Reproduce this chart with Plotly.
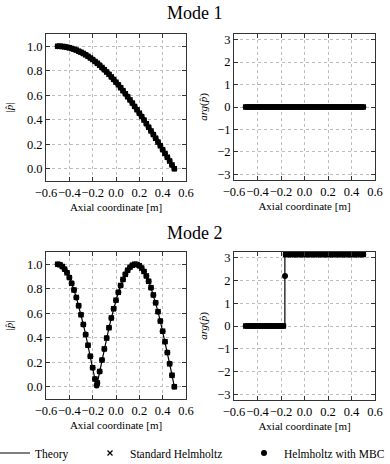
import plotly.graph_objects as go

# ---------------- data ----------------
x_grid = [-0.50, -0.48, -0.46, -0.44, -0.42, -0.40, -0.38, -0.36, -0.34, -0.32,
          -0.30, -0.28, -0.26, -0.24, -0.22, -0.20, -0.18, -0.16, -0.14, -0.12,
          -0.10, -0.08, -0.06, -0.04, -0.02, 0.00, 0.02, 0.04, 0.06, 0.08,
          0.10, 0.12, 0.14, 0.16, 0.18, 0.20, 0.22, 0.24, 0.26, 0.28,
          0.30, 0.32, 0.34, 0.36, 0.38, 0.40, 0.42, 0.44, 0.46, 0.48, 0.50]

# Mode 1 amplitude (theory == numerical at these points)
amp1 = [1.000, 1.000, 0.998, 0.996, 0.992, 0.988, 0.982, 0.976, 0.969, 0.960,
        0.951, 0.941, 0.930, 0.918, 0.905, 0.891, 0.876, 0.861, 0.844, 0.827,
        0.809, 0.790, 0.771, 0.750, 0.729, 0.707, 0.685, 0.661, 0.637, 0.613,
        0.588, 0.562, 0.536, 0.509, 0.482, 0.454, 0.426, 0.397, 0.368, 0.339,
        0.309, 0.279, 0.249, 0.218, 0.187, 0.156, 0.125, 0.094, 0.063, 0.031, 0.000]
phase1 = [0.0, 0.0, 0.0, 0.0, 0.0, 0.0, 0.0, 0.0, 0.0, 0.0,
          0.0, 0.0, 0.0, 0.0, 0.0, 0.0, 0.0, 0.0, 0.0, 0.0,
          0.0, 0.0, 0.0, 0.0, 0.0, 0.0, 0.0, 0.0, 0.0, 0.0,
          0.0, 0.0, 0.0, 0.0, 0.0, 0.0, 0.0, 0.0, 0.0, 0.0,
          0.0, 0.0, 0.0, 0.0, 0.0, 0.0, 0.0, 0.0, 0.0, 0.0, 0.0]

# Mode 2 amplitude / phase on the grid
amp2 = [1.000, 0.996, 0.982, 0.960, 0.930, 0.891, 0.844, 0.790, 0.729, 0.661,
        0.588, 0.509, 0.426, 0.339, 0.249, 0.156, 0.063, 0.031, 0.125, 0.218,
        0.309, 0.397, 0.482, 0.562, 0.637, 0.707, 0.771, 0.827, 0.876, 0.918,
        0.951, 0.976, 0.992, 1.000, 0.998, 0.988, 0.969, 0.941, 0.905, 0.861,
        0.809, 0.750, 0.685, 0.613, 0.536, 0.454, 0.368, 0.279, 0.187, 0.094, 0.000]
phase2 = [0.0, 0.0, 0.0, 0.0, 0.0, 0.0, 0.0, 0.0, 0.0, 0.0,
          0.0, 0.0, 0.0, 0.0, 0.0, 0.0, 0.0, 3.142, 3.142, 3.142,
          3.142, 3.142, 3.142, 3.142, 3.142, 3.142, 3.142, 3.142, 3.142, 3.142,
          3.142, 3.142, 3.142, 3.142, 3.142, 3.142, 3.142, 3.142, 3.142, 3.142,
          3.142, 3.142, 3.142, 3.142, 3.142, 3.142, 3.142, 3.142, 3.142, 3.142, 3.142]

# Theory mode 2 with the node / phase jump included
theory2_x = x_grid[:17] + [-0.167, -0.167] + x_grid[17:]
theory2_amp = amp2[:17] + [0.0, 0.0] + amp2[17:]
theory2_phase = phase2[:17] + [0.0, 3.142] + phase2[17:]

# Helmholtz with MBC, mode 2: one extra point next to the node
mbc2_x = x_grid[:17] + [-0.166] + x_grid[17:]
mbc2_amp = amp2[:17] + [0.01] + amp2[17:]
mbc2_phase = phase2[:17] + [2.2] + phase2[17:]

names = ["Theory", "Standard Helmholtz", "Helmholtz with MBC"]
x_ticks = [-0.6, -0.4, -0.2, 0.0, 0.2, 0.4, 0.6]
x_ticktext = ["\u22120.6", "\u22120.4", "\u22120.2", "0.0", "0.2", "0.4", "0.6"]

# ---------------- figure ----------------
FONT = "Liberation Serif"
W, H = 390, 464
fig = go.Figure()

def px_x(a, b):
    return [a / W, b / W]

def px_y(top, bottom):
    return [1 - bottom / H, 1 - top / H]

panels = [
    ("x", "y", px_x(46, 186), px_y(34, 181), x_grid, amp1, x_grid, amp1, x_grid, amp1),
    ("x2", "y2", px_x(234, 375), px_y(34, 180), x_grid, phase1, x_grid, phase1, x_grid, phase1),
    ("x3", "y3", px_x(46, 186), px_y(252, 399), theory2_x, theory2_amp, x_grid, amp2, mbc2_x, mbc2_amp),
    ("x4", "y4", px_x(234, 375), px_y(252, 400), theory2_x, theory2_phase, x_grid, phase2, mbc2_x, mbc2_phase),
]

for i, (xa, ya, xd, yd, tx, ty, sx, sy, mx, my) in enumerate(panels):
    first = i == 0
    fig.add_trace(go.Scatter(x=tx, y=ty, mode="lines", xaxis=xa, yaxis=ya,
                             line=dict(color="black", width=1.2),
                             name=names[0], showlegend=first, legend="legend"))
    fig.add_trace(go.Scatter(x=sx, y=sy, mode="markers", xaxis=xa, yaxis=ya,
                             marker=dict(symbol="x-thin", size=5, color="black",
                                         line=dict(color="black", width=1.2)),
                             name=names[1], showlegend=first, legend="legend2"))
    fig.add_trace(go.Scatter(x=mx, y=my, mode="markers", xaxis=xa, yaxis=ya,
                             marker=dict(symbol="circle", size=6, color="black"),
                             name=names[2], showlegend=first, legend="legend3"))

axis_common = dict(showline=True, linecolor="#333333", linewidth=1, mirror="allticks",
                   ticks="inside", ticklen=4, tickcolor="#333333", tickwidth=1,
                   showgrid=True, gridcolor="#bdbdbd", griddash="dot", gridwidth=1,
                   zeroline=False, automargin=False,
                   tickfont=dict(family=FONT, size=12.5, color="black"))

layout = dict(width=W, height=H, margin=dict(l=0, r=0, t=0, b=0, autoexpand=False),
              paper_bgcolor="white", plot_bgcolor="white",
              font=dict(family=FONT, color="black"))

for i, (xa, ya, xd, yd, *_rest) in enumerate(panels):
    xk = "xaxis" + ("" if xa == "x" else xa[1:])
    yk = "yaxis" + ("" if ya == "y" else ya[1:])
    left = i % 2 == 0
    layout[xk] = dict(axis_common, domain=xd, anchor=ya, range=[-0.6, 0.6],
                      tickmode="array", tickvals=x_ticks, ticktext=x_ticktext,
                      tickangle=0,
                      title=dict(text="Axial coordinate [m]", standoff=4,
                                 font=dict(family=FONT, size=11)))
    if left:
        layout[yk] = dict(axis_common, domain=yd, anchor=xa, range=[-0.1, 1.1],
                          tickmode="array", tickvals=[0.0, 0.2, 0.4, 0.6, 0.8, 1.0],
                          ticktext=["0.0", "0.2", "0.4", "0.6", "0.8", "1.0"],
                          title=dict(text="|<i>p\u0302</i>|", standoff=11,
                                     font=dict(family=FONT, size=11)))
    else:
        layout[yk] = dict(axis_common, domain=yd, anchor=xa, range=[-3.25, 3.25],
                          tickmode="array", tickvals=[-3, -2, -1, 0, 1, 2, 3],
                          ticktext=["\u22123", "\u22122", "\u22121", "0", "1", "2", "3"],
                          title=dict(text="<i>arg</i>(<i>p\u0302</i>)", standoff=7,
                                     font=dict(family=FONT, size=11)))

leg_common = dict(orientation="h", yanchor="middle", y=1 - 453 / H, xanchor="left",
                  font=dict(family=FONT, size=11.5, color="black"),
                  bgcolor="rgba(0,0,0,0)", borderwidth=0, tracegroupgap=0)
layout["legend"] = dict(leg_common, x=-5 / W)
layout["legend2"] = dict(leg_common, x=90 / W)
layout["legend3"] = dict(leg_common, x=244 / W)

layout["annotations"] = [
    dict(text="Mode 1", x=0.5, y=1 - 13 / H, xref="paper", yref="paper",
         showarrow=False, font=dict(family=FONT, size=18), xanchor="center", yanchor="middle"),
    dict(text="Mode 2", x=0.5, y=1 - 233 / H, xref="paper", yref="paper",
         showarrow=False, font=dict(family=FONT, size=18), xanchor="center", yanchor="middle"),
]

fig.update_layout(**layout)
fig.write_html("out.html")
